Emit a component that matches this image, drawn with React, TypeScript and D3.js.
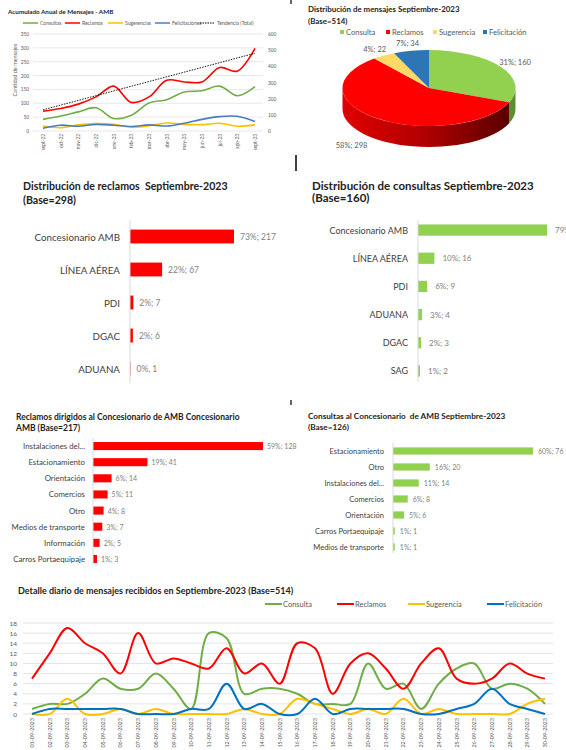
import React from 'react';
import * as d3 from 'd3';

const FONT = "Lato, 'Open Sans', sans-serif";

// ---------- Annual chart data ----------
const monthLabels = ['sept-22', 'oct-22', 'nov-22', 'dic-22', 'ene-23', 'feb-23', 'mar-23', 'abr-23', 'may-23', 'jun-23', 'jul-23', 'ago-23', 'sept-23'];
const monthConsultas = [42, 54, 69, 84, 45, 57, 101, 113, 141, 145, 162, 127, 160];
const monthReclamos = [71, 81, 97, 123, 162, 103, 123, 183, 177, 177, 229, 216, 298];
const monthSugerencias = [18, 12, 22, 27, 24, 14, 19, 29, 24, 23, 28, 17, 22];
const monthFelicitaciones = [10, 21, 17, 24, 21, 16, 22, 18, 28, 42, 52, 53, 34];
const trendEnds = [131, 481]; // right axis (total)
const annualLegend = ['Consultas', 'Reclamos', 'Sugerencias', 'Felicitaciones', 'Tendencia (Total)'];
const leftTicks = [0, 50, 100, 150, 200, 250, 300, 350];
const rightTicks = [0, 100, 200, 300, 400, 500, 600];

// ---------- Pie data ----------
const pieCats = ['Consulta', 'Reclamos', 'Sugerencia', 'Felicitación'];
const pieVals = [160, 298, 22, 34];
const pieLabels = ['31%; 160', '58%; 298', '4%; 22', '7%; 34'];

// ---------- Bar charts ----------
const reclamosCats = ['Concesionario AMB', 'LÍNEA AÉREA', 'PDI', 'DGAC', 'ADUANA'];
const reclamosVals = [217, 67, 7, 6, 1];
const reclamosLabels = ['73%; 217', '22%; 67', '2%; 7', '2%; 6', '0%, 1'];

const consultasCats = ['Concesionario AMB', 'LÍNEA AÉREA', 'PDI', 'ADUANA', 'DGAC', 'SAG'];
const consultasVals = [126, 16, 9, 4, 3, 2];
const consultasLabels = ['79%; 126', '10%; 16', '6%; 9', '3%; 4', '2%; 3', '1%; 2'];

const recConcCats = ['Instalaciones del...', 'Estacionamiento', 'Orientación', 'Comercios', 'Otro', 'Medios de transporte', 'Información', 'Carros Portaequipaje'];
const recConcVals = [128, 41, 14, 11, 8, 7, 5, 3];
const recConcLabels = ['59%; 128', '19%; 41', '6%; 14', '5%; 11', '4%; 8', '3%; 7', '2%; 5', '1%; 3'];

const conConcCats = ['Estacionamiento', 'Otro', 'Instalaciones del...', 'Comercios', 'Orientación', 'Carros Portaequipaje', 'Medios de transporte'];
const conConcVals = [76, 20, 14, 8, 6, 1, 1];
const conConcLabels = ['60%; 76', '16%; 20', '11%; 14', '6%; 8', '5%; 6', '1%; 1', '1%; 1'];

// ---------- Daily chart ----------
const dayLabels = ['01-09-2023', '02-09-2023', '03-09-2023', '04-09-2023', '05-09-2023', '06-09-2023', '07-09-2023', '08-09-2023', '09-09-2023', '10-09-2023',
  '11-09-2023', '12-09-2023', '13-09-2023', '14-09-2023', '15-09-2023', '16-09-2023', '17-09-2023', '18-09-2023', '19-09-2023', '20-09-2023',
  '21-09-2023', '22-09-2023', '23-09-2023', '24-09-2023', '25-09-2023', '26-09-2023', '27-09-2023', '28-09-2023', '29-09-2023', '30-09-2023'];
const consultaDaily = [1, 2, 2, 4, 7, 5, 5, 8, 5, 1, 16, 15, 4, 5, 5, 4, 2, 2, 2, 10, 5, 6, 1, 6, 9, 10, 5, 6, 5, 2];
const reclamosDaily = [7, 12, 17, 14, 12, 8, 16, 10, 11, 10, 9, 13, 8, 10, 6, 14, 13, 4, 10, 12, 9, 5, 10, 13, 7, 6, 7, 10, 8, 7];
const sugerenciaDaily = [0, 0, 3, 0, 0, 1, 0, 1, 0, 0, 0, 0, 1, 0, 0, 3, 2, 1, 0, 1, 0, 3, 0, 1, 0, 0, 0, 0, 2, 3];
const felicitacionDaily = [0, 1, 1, 1, 1, 1, 0, 0, 0, 1, 1, 6, 1, 2, 0, 0, 3, 0, 1, 1, 1, 1, 0, 0, 1, 2, 5, 2, 1, 0];
const dailyLegend = ['Consulta', 'Reclamos', 'Sugerencia', 'Felicitación'];
const dailyTicks = [0, 2, 4, 6, 8, 10, 12, 14, 16, 18];

const GRID = '#D9D9D9';
const TXT = '#595959';

function AnnualChart() {
  const x = d3.scalePoint<string>().domain(monthLabels).range([43, 255]);
  const yL = d3.scaleLinear().domain([0, 350]).range([131, 34]);
  const yR = d3.scaleLinear().domain([0, 600]).range([131, 34]);
  const line = d3.line<number>().x((_, i) => x(monthLabels[i])!).y(d => yL(d)).curve(d3.curveCatmullRom.alpha(0.5));
  const series = [
    { v: monthConsultas, c: '#70AD47' },
    { v: monthReclamos, c: '#FF0000' },
    { v: monthSugerencias, c: '#FFC000' },
    { v: monthFelicitaciones, c: '#4A7EBB' },
  ];
  const legX = [23, 65, 108, 155, 200];
  const legC = ['#70AD47', '#FF0000', '#FFC000', '#4A7EBB', '#000'];
  return (
    <g>
      <text x={8} y={11} fontSize={6.3} fontWeight="bold" fill="#222" dominantBaseline="central">Acumulado Anual de Mensajes - AMB</text>
      {annualLegend.map((t, i) => (
        <g key={t}>
          <line x1={legX[i]} x2={legX[i] + 15} y1={23} y2={23} stroke={legC[i]} strokeWidth={i === 4 ? 1 : 1.5} strokeDasharray={i === 4 ? '1.5,1' : undefined} />
          <text x={legX[i] + 17} y={23} fontSize={5} fill={TXT} dominantBaseline="central">{t}</text>
        </g>
      ))}
      {leftTicks.map(t => (
        <g key={t}>
          <line x1={33} x2={263} y1={yL(t)} y2={yL(t)} stroke={GRID} strokeWidth={0.6} />
          <text x={29} y={yL(t)} fontSize={4.8} fill={TXT} textAnchor="end" dominantBaseline="central">{t}</text>
        </g>
      ))}
      {rightTicks.map(t => (
        <text key={t} x={268} y={yR(t)} fontSize={4.8} fill={TXT} dominantBaseline="central">{t}</text>
      ))}
      <text transform="translate(15,70) rotate(-90)" fontSize={5.5} fill={TXT} textAnchor="middle" dominantBaseline="central">Cantidad de mensajes</text>
      {monthLabels.map(m => (
        <text key={m} transform={`translate(${x(m)},134) rotate(-90)`} fontSize={4.8} fill={TXT} textAnchor="end" dominantBaseline="central">{m}</text>
      ))}
      {series.map((s, i) => (
        <path key={i} d={line(s.v)!} fill="none" stroke={s.c} strokeWidth={1.6} />
      ))}
      <line x1={x(monthLabels[0])} x2={x(monthLabels[monthLabels.length - 1])} y1={yR(trendEnds[0])} y2={yR(trendEnds[1])} stroke="#000" strokeWidth={0.9} strokeDasharray="1.5,1.2" />
    </g>
  );
}

function PieChart() {
  const cx = 429, cy = 88, rx = 86.5, ry = 38, depth = 21;
  const colors = ['#92D050', '#FF0000', '#FFD966', '#2E75B6'];
  const sideColors = ['#5E8F2E', 'url(#redSide)', '#C9A640', '#1F4E79'];
  const arcs = d3.pie<number>().sort(null).startAngle(0).endAngle(2 * Math.PI)(pieVals);
  const P = (a: number, dy = 0) => [cx + rx * Math.sin(a), cy - ry * Math.cos(a) + dy];
  const legX = [340, 386, 433, 483];
  return (
    <g>
      <defs>
        <linearGradient id="redSide" x1="0" x2="1" y1="0" y2="0">
          <stop offset="0" stopColor="#E00000" />
          <stop offset="0.5" stopColor="#B00000" />
          <stop offset="1" stopColor="#5A0000" />
        </linearGradient>
      </defs>
      <text x={308} y={9} fontSize={7.9} fontWeight="bold" fill="#222" dominantBaseline="central">Distribución de mensajes Septiembre-2023</text>
      <text x={308} y={21} fontSize={7.9} fontWeight="bold" fill="#222" dominantBaseline="central">(Base=514)</text>
      {pieCats.map((c, i) => (
        <g key={c}>
          <rect x={legX[i]} y={30} width={4} height={4} fill={colors[i]} />
          <text x={legX[i] + 6} y={32} fontSize={7.6} fill={TXT} dominantBaseline="central">{c}</text>
        </g>
      ))}
      {arcs.map((a, i) => {
        const s = Math.max(a.startAngle, Math.PI / 2);
        const e = Math.min(a.endAngle, 1.5 * Math.PI);
        if (e <= s) return null;
        const p1 = P(s), p2 = P(e), p3 = P(e, depth), p4 = P(s, depth);
        const d = `M${p1[0]},${p1[1]} A${rx},${ry} 0 0 1 ${p2[0]},${p2[1]} L${p3[0]},${p3[1]} A${rx},${ry} 0 0 0 ${p4[0]},${p4[1]} Z`;
        return <path key={'s' + i} d={d} fill={sideColors[i]} />;
      })}
      {arcs.map((a, i) => {
        const p1 = P(a.startAngle), p2 = P(a.endAngle);
        const large = a.endAngle - a.startAngle > Math.PI ? 1 : 0;
        const d = `M${cx},${cy} L${p1[0]},${p1[1]} A${rx},${ry} 0 ${large} 1 ${p2[0]},${p2[1]} Z`;
        return <path key={'t' + i} d={d} fill={colors[i]} />;
      })}
      {arcs.map((a, i) => {
        const m = (a.startAngle + a.endAngle) / 2;
        const lx = cx + rx * Math.sin(m) * 1.2;
        const ly = cy - ry * Math.cos(m) * 1.2 + (Math.cos(m) < 0 ? depth : 0);
        const anchor = Math.cos(m) < 0 && Math.sin(m) < 0 ? 'end' : 'middle';
        return <text key={'l' + i} x={lx} y={ly} fontSize={7.5} fill={TXT} textAnchor={anchor} dominantBaseline="central">{pieLabels[i]}</text>;
      })}
    </g>
  );
}

type HBarProps = {
  title: string[]; titleX: number; titleY: number[]; titleSize: number;
  cats: string[]; vals: number[]; labels: string[]; color: string;
  x0: number; x1: number; maxVal: number; yTop: number; yBottom: number; padding: number;
  labelX: number; catSize: number; valSize: number; valGap: number; axisTop: number; axisBottom: number;
};

function HBar(p: HBarProps) {
  const x = d3.scaleLinear().domain([0, p.maxVal]).range([p.x0, p.x1]);
  const y = d3.scaleBand<string>().domain(p.cats).range([p.yTop, p.yBottom]).paddingInner(p.padding).paddingOuter(p.padding / 2);
  return (
    <g>
      {p.title.map((t, i) => (
        <text key={i} x={p.titleX} y={p.titleY[i]} fontSize={p.titleSize} fontWeight="bold" fill="#222" dominantBaseline="central" style={{ whiteSpace: 'pre' }}>{t}</text>
      ))}
      {p.cats.map((c, i) => {
        const yc = y(c)! + y.bandwidth() / 2;
        return (
          <g key={c}>
            <rect x={x(0)} y={y(c)} width={x(p.vals[i]) - x(0)} height={y.bandwidth()} fill={p.color} />
            <text x={p.labelX} y={yc} fontSize={p.catSize} fill="#404040" textAnchor="end" dominantBaseline="central">{c}</text>
            <text x={x(p.vals[i]) + p.valGap} y={yc} fontSize={p.valSize} fill="#7F7F7F" dominantBaseline="central">{p.labels[i]}</text>
          </g>
        );
      })}
      <line x1={p.x0} x2={p.x0} y1={p.axisTop} y2={p.axisBottom} stroke={GRID} strokeWidth={1} />
    </g>
  );
}

function DailyChart() {
  const x = d3.scalePoint<string>().domain(dayLabels).range([32, 545]);
  const y = d3.scaleLinear().domain([0, 18]).range([714, 623]);
  const line = d3.line<number>().x((_, i) => x(dayLabels[i])!).y(d => y(d)).curve(d3.curveCatmullRom.alpha(0.5));
  const colors = ['#70AD47', '#FF0000', '#FFC000', '#0070C0'];
  const series = [consultaDaily, reclamosDaily, sugerenciaDaily, felicitacionDaily];
  const legX = [265, 337, 408, 487];
  return (
    <g>
      <text x={18} y={590} fontSize={9} fontWeight="bold" fill="#222" dominantBaseline="central">Detalle diario de mensajes recibidos en Septiembre-2023 (Base=514)</text>
      {dailyLegend.map((t, i) => (
        <g key={t}>
          <line x1={legX[i]} x2={legX[i] + 17} y1={604} y2={604} stroke={colors[i]} strokeWidth={2} />
          <text x={legX[i] + 18} y={604} fontSize={7.5} fill={TXT} dominantBaseline="central">{t}</text>
        </g>
      ))}
      {dailyTicks.map(t => (
        <g key={t}>
          <line x1={23} x2={553} y1={y(t)} y2={y(t)} stroke={GRID} strokeWidth={0.7} />
          <text x={17} y={y(t)} fontSize={6.5} fill={TXT} textAnchor="end" dominantBaseline="central">{t}</text>
        </g>
      ))}
      {dayLabels.map(d => (
        <text key={d} transform={`translate(${x(d)},718) rotate(-90)`} fontSize={5.5} fill={TXT} textAnchor="end" dominantBaseline="central">{d}</text>
      ))}
      {series.map((s, i) => (
        <path key={i} d={line(s)!} fill="none" stroke={colors[i]} strokeWidth={2} />
      ))}
    </g>
  );
}

export default function App() {
  return (
    <svg width={566} height={750} style={{ position: 'absolute', left: 0, top: 0, background: '#fff' }} fontFamily={FONT}>
      <rect width={566} height={750} fill="#fff" />
      <AnnualChart />
      <PieChart />
      <HBar title={['Distribución de reclamos  Septiembre-2023', '(Base=298)']} titleX={23} titleY={[186, 200]} titleSize={10.6}
        cats={reclamosCats} vals={reclamosVals} labels={reclamosLabels} color="#FF0000"
        x0={130} x1={234} maxVal={217} yTop={220} yBottom={385} padding={0.58}
        labelX={120} catSize={9.8} valSize={8.5} valGap={6} axisTop={220} axisBottom={383} />
      <HBar title={['Distribución de consultas Septiembre-2023', '(Base=160)']} titleX={312} titleY={[185, 197]} titleSize={11.5}
        cats={consultasCats} vals={consultasVals} labels={consultasLabels} color="#92D050"
        x0={418} x1={547} maxVal={126} yTop={216} yBottom={385} padding={0.6}
        labelX={408} catSize={9} valSize={8} valGap={8} axisTop={220} axisBottom={382} />
      <HBar title={['Reclamos dirigidos al Concesionario de AMB Concesionario', 'AMB (Base=217)']} titleX={16} titleY={[417, 428]} titleSize={8.5}
        cats={recConcCats} vals={recConcVals} labels={recConcLabels} color="#FF0000"
        x0={93} x1={263} maxVal={128} yTop={438} yBottom={567} padding={0.5}
        labelX={85} catSize={7.8} valSize={7} valGap={4} axisTop={438} axisBottom={565} />
      <HBar title={['Consultas al Concesionario  de AMB Septiembre-2023', '(Base=126)']} titleX={308} titleY={[416, 427]} titleSize={8.2}
        cats={conConcCats} vals={conConcVals} labels={conConcLabels} color="#92D050"
        x0={393} x1={533} maxVal={76} yTop={443} yBottom={555} padding={0.55}
        labelX={384} catSize={7.5} valSize={7} valGap={5} axisTop={443} axisBottom={553} />
      <DailyChart />
      <line x1={291} x2={291} y1={0} y2={4} stroke="#000" strokeWidth={1.2} />
      <line x1={296} x2={296} y1={155} y2={171} stroke="#000" strokeWidth={1.5} />
      <line x1={291} x2={291} y1={400} y2={405} stroke="#000" strokeWidth={1.2} />
    </svg>
  );
}
